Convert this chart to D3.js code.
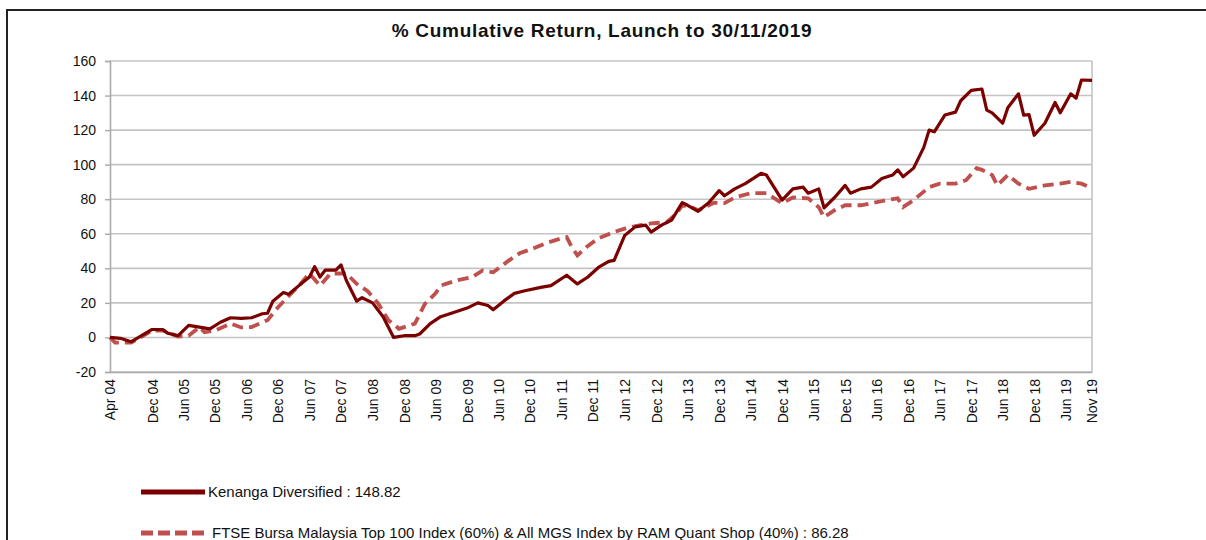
<!DOCTYPE html>
<html>
<head>
<meta charset="utf-8">
<script src="https://cdn.jsdelivr.net/npm/d3@7"></script>
<style>
	body { margin: 0; background: #fff; }
	text { font-family: "Liberation Sans", Arial, sans-serif; fill: #111; }
</style>
</head>
<body>
<svg id="chart" width="1206" height="540"></svg>
<script>
// months counted from launch (Apr 2004)
var kenangaMonth = [0, 2, 4, 6, 8, 10, 11, 13, 15, 17, 19, 21, 23, 25, 27, 29, 30, 31, 33, 34, 36, 38, 39, 40, 41, 43, 44, 45, 47, 48, 50, 52, 54, 56, 58, 59, 61, 63, 66, 68, 70, 72, 73, 75, 77, 79, 82, 84, 87, 89, 91, 93, 95, 96, 98, 100, 102, 103, 105, 107, 109, 110, 112, 114, 116, 117, 119, 121, 124, 125, 128, 130, 132, 133, 135, 136, 138, 140, 141, 143, 145, 147, 149, 150, 151, 153, 155, 156, 157, 159, 161, 162, 164, 166, 167, 168, 170, 171, 173, 174, 175, 176, 178, 180, 181, 183, 184, 185, 187];
var kenangaValue = [0, -0.5, -2.5, 1, 4.6, 4.6, 2.5, 1, 7, 6, 5, 8.8, 11.4, 11, 11.4, 13.7, 14, 21, 26, 25, 30, 35, 41, 35, 39, 39, 42, 33, 21, 23, 20, 12, 0, 1, 1, 2, 8, 12, 15, 17, 20, 18.5, 16, 21, 25.5, 27, 29, 30, 36, 31, 35, 40.5, 44, 44.6, 59, 64, 65, 61, 65, 68, 78, 76.5, 73, 78, 85, 82, 86, 89, 95, 94, 79.5, 86, 87, 83.5, 86, 75, 81, 88, 83.5, 86, 87, 92, 94, 97, 93, 98, 110, 120, 119, 128.7, 130.4, 137, 143, 143.8, 131.6, 130, 124, 133, 141, 128.7, 129, 117, 124, 136, 130, 141, 138.5, 149, 148.82];

var benchMonth = [0, 1, 4, 8, 10, 13, 15, 17, 18, 20, 23, 25, 27, 30, 32, 34, 36, 38, 40, 42, 44, 45, 47, 49, 51, 53, 55, 58, 60, 62, 63, 66, 69, 71, 73, 76, 78, 81, 83, 86, 87, 88, 89, 91, 93, 96, 98, 101, 103, 106, 108, 109, 111, 112, 115, 117, 119, 122, 125, 128, 130, 133, 135, 136, 138, 140, 143, 145, 148, 150, 151, 153, 156, 158, 161, 163, 165, 166, 168, 169, 171, 173, 175, 178, 181, 183, 185, 187];
var benchValue = [0, -3, -3, 4, 4, 0.5, 1, 6, 3, 4, 8, 5.8, 6, 10, 17.5, 24, 30, 37, 30, 37, 37, 37, 31, 27, 20, 10, 5, 8, 19.5, 25.5, 30, 33, 35, 38.8, 37.7, 44.6, 48.7, 52, 54.5, 57.4, 58, 52, 47.5, 53, 57.4, 61, 63, 65, 66, 66.7, 72, 76.5, 75, 73.6, 78, 77.7, 81, 83.5, 83.5, 77.7, 81, 80.5, 75.4, 69.6, 73.6, 76.5, 76.5, 77.7, 79.5, 80.5, 75.4, 79.5, 87, 89, 89, 91, 98, 97, 94, 88, 94, 89, 86, 88, 89, 90, 89, 86.28];

var tickLabels = ["Apr 04", "Dec 04", "Jun 05", "Dec 05", "Jun 06", "Dec 06", "Jun 07", "Dec 07", "Jun 08", "Dec 08", "Jun 09", "Dec 09", "Jun 10", "Dec 10", "Jun 11", "Dec 11", "Jun 12", "Dec 12", "Jun 13", "Dec 13", "Jun 14", "Dec 14", "Jun 15", "Dec 15", "Jun 16", "Dec 16", "Jun 17", "Dec 17", "Jun 18", "Dec 18", "Jun 19", "Nov 19"];
var yTicks = [-20, 0, 20, 40, 60, 80, 100, 120, 140, 160];

var seriesNames = ["Kenanga Diversified : 148.82", "FTSE Bursa Malaysia Top 100 Index (60%) & All MGS Index by RAM Quant Shop (40%) : 86.28"];
var title = "% Cumulative Return, Launch to 30/11/2019";

var launch = new Date(2004, 3, 1);
var parseTick = d3.timeParse("%b %y");

var svg = d3.select("#chart");
var margin = {left: 110, right: 1092, top: 61, bottom: 372};

// outer frame
svg.append("rect")
	.attr("x", 7)
	.attr("y", 10)
	.attr("width", 1220)
	.attr("height", 560)
	.attr("fill", "none")
	.attr("stroke", "#222")
	.attr("stroke-width", 2);

svg.append("text")
	.text(title)
	.attr("x", 602)
	.attr("y", 37)
	.attr("text-anchor", "middle")
	.style("font-size", "19px")
	.style("font-weight", "bold")
	.style("letter-spacing", "0.7px");

var x = d3.scaleTime()
	.domain([launch, d3.timeMonth.offset(launch, 187)])
	.range([margin.left, margin.right]);
var y = d3.scaleLinear()
	.domain([-20, 160])
	.range([margin.bottom, margin.top]);

// gridlines
svg.append("g").selectAll("line")
	.data(yTicks).enter()
	.append("line")
		.attr("x1", margin.left)
		.attr("x2", margin.right)
		.attr("y1", function(d){ return y(d); })
		.attr("y2", function(d){ return y(d); })
		.attr("stroke", "#c4c4c4")
		.attr("stroke-width", 1.6);

svg.append("line")
	.attr("x1", margin.right)
	.attr("x2", margin.right)
	.attr("y1", margin.top)
	.attr("y2", margin.bottom)
	.attr("stroke", "#c4c4c4")
	.attr("stroke-width", 1.6);

var yAxis = d3.axisLeft(y)
	.tickValues(yTicks)
	.tickFormat(function(d){ return String(d); })
	.tickSize(5)
	.tickPadding(9);
var gy = svg.append("g")
	.attr("transform", "translate(" + margin.left + ",0)")
	.call(yAxis);
gy.select(".domain").attr("stroke", "#aaa").attr("stroke-width", 1.6);
gy.selectAll(".tick line").attr("stroke", "#aaa").attr("stroke-width", 1.4);
gy.selectAll(".tick text")
	.style("font-size", "14px")
	.style("font-family", "'Liberation Sans', Arial, sans-serif")
	.attr("fill", "#222");

// x axis labels
var xAxis = d3.axisBottom(x)
	.tickValues(tickLabels.map(function(d){ return parseTick(d); }))
	.tickFormat(d3.timeFormat("%b %y"))
	.tickSize(0);
var gx = svg.append("g")
	.attr("transform", "translate(0," + margin.bottom + ")")
	.call(xAxis);
gx.select(".domain").attr("stroke", "#aaa").attr("stroke-width", 1.6);
gx.selectAll(".tick text")
	.attr("transform", "rotate(-90)")
	.attr("text-anchor", "end")
	.attr("x", -7)
	.attr("y", 0)
	.attr("dy", "0.35em")
	.style("font-size", "14px")
	.style("font-family", "'Liberation Sans', Arial, sans-serif")
	.attr("fill", "#222");

var line = d3.line()
	.x(function(d){ return x(d3.timeMonth.offset(launch, d[0])); })
	.y(function(d){ return y(d[1]); });

svg.append("path")
	.datum(d3.zip(benchMonth, benchValue))
	.attr("d", line)
	.attr("fill", "none")
	.attr("stroke", "#c0504d")
	.attr("stroke-width", 3.8)
	.attr("stroke-dasharray", "11,6");

svg.append("path")
	.datum(d3.zip(kenangaMonth, kenangaValue))
	.attr("d", line)
	.attr("fill", "none")
	.attr("stroke", "#7b0000")
	.attr("stroke-width", 3.2)
	.attr("stroke-linejoin", "round");

// legend
var legendY = [492, 533];
var legend = svg.append("g").selectAll("g")
	.data(seriesNames).enter()
	.append("g")
	.attr("transform", function(d, i){ return "translate(0," + legendY[i] + ")"; });
legend.append("line")
	.attr("x1", 141)
	.attr("x2", 205)
	.attr("stroke", function(d, i){ return i == 0 ? "#7b0000" : "#c0504d"; })
	.attr("stroke-width", 5)
	.attr("stroke-dasharray", function(d, i){ return i == 0 ? null : "12,5"; });
legend.append("text")
	.text(function(d){ return d; })
	.attr("x", function(d, i){ return i == 0 ? 208 : 212; })
	.attr("y", 5)
	.style("font-size", "15px");
</script>
</body>
</html>
